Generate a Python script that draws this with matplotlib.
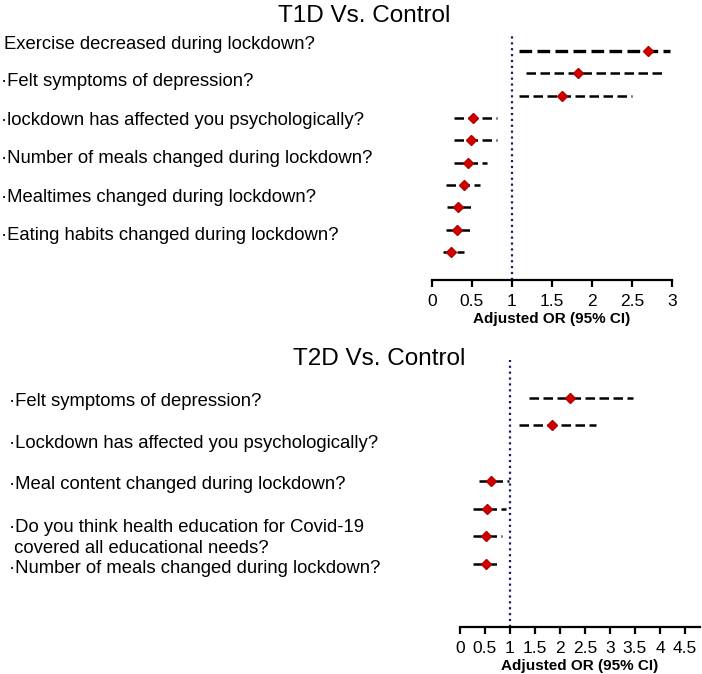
import matplotlib
matplotlib.use("Agg")
import matplotlib.pyplot as plt

plt.rcParams['font.family'] = ['Liberation Sans', 'DejaVu Sans']

# T1D vs control: adjusted OR with 95% CI (rows top to bottom)
t1d_or = [2.70, 1.83, 1.63, 0.51, 0.49, 0.45, 0.40, 0.32, 0.31, 0.24]
t1d_lo = [1.09, 1.18, 1.09, 0.28, 0.28, 0.28, 0.18, 0.19, 0.18, 0.14]
t1d_hi = [2.98, 2.91, 2.50, 0.81, 0.81, 0.69, 0.60, 0.50, 0.49, 0.40]
t1d_labels = [
    "Exercise decreased during lockdown?",
    "\u00b7Felt symptoms of depression?",
    "\u00b7lockdown has affected you psychologically?",
    "\u00b7Number of meals changed during lockdown?",
    "\u00b7Mealtimes changed during lockdown?",
    "\u00b7Eating habits changed during lockdown?",
]

# T2D vs control (row 2 is empty)
t2d_rows = [0, 1, 3, 4, 5, 6]
t2d_or = [2.20, 1.85, 0.62, 0.55, 0.52, 0.52]
t2d_lo = [1.39, 1.19, 0.38, 0.27, 0.27, 0.27]
t2d_hi = [3.47, 2.73, 0.99, 0.92, 0.85, 0.75]
t2d_labels = [
    "\u00b7Felt symptoms of depression?",
    "\u00b7Lockdown has affected you psychologically?",
    "\u00b7Meal content changed during lockdown?",
    "\u00b7Do you think health education for Covid-19",
    " covered all educational needs?",
    "\u00b7Number of meals changed during lockdown?",
]

W, H = 702, 674
fig = plt.figure(figsize=(W / 100, H / 100), dpi=100)


def px_axes(left, top, right, bottom):
    return fig.add_axes([left / W, 1 - bottom / H, (right - left) / W, (bottom - top) / H])


def forest(ax, rows, ors, los, his, xmax, ticks, first_thick=False):
    for i, (y, o, lo, hi) in enumerate(zip(rows, ors, los, his)):
        if i == 0 and first_thick:
            lw, dash = 2.4, (0, (3.8, 1.6))
        else:
            lw, dash = 1.8, (0, (3.8, 1.8))
        ax.plot([lo, hi], [y, y], color="black", lw=lw, linestyle=dash, zorder=2)
    ax.plot(ors, rows, linestyle="none", marker="D", markersize=5.6,
            markerfacecolor="#d40000", markeredgecolor="#b00000", zorder=3)
    ax.axvline(1, color="#1a1a6e", lw=1.6, linestyle=":", zorder=1)
    ax.set_xlim(0, xmax)
    ax.set_xticks(ticks)
    ax.set_xticklabels(["%g" % t for t in ticks], fontsize=12.5)
    ax.set_yticks([])
    for s in ["top", "right", "left"]:
        ax.spines[s].set_visible(False)
    ax.spines["bottom"].set_linewidth(1.6)
    ax.tick_params(axis="x", length=5, width=1.6, direction="out", pad=5)
    ax.set_xlabel("Adjusted OR (95% CI)", fontsize=11, fontweight="bold", labelpad=2)


ax1 = px_axes(432, 35, 672, 280)
forest(ax1, list(range(len(t1d_or))), t1d_or, t1d_lo, t1d_hi, 3.0,
       [0, 0.5, 1, 1.5, 2, 2.5, 3], first_thick=True)
ax1.set_ylim(10.25, -0.72)

ax2 = px_axes(459.7, 360, 700, 627)
forest(ax2, t2d_rows, t2d_or, t2d_lo, t2d_hi, 4.8,
       [0, 0.5, 1, 1.5, 2, 2.5, 3, 3.5, 4, 4.5])
ax2.set_ylim(8.27, -1.36)

# titles
fig.text(278 / W, 1 - 22 / H, "T1D Vs. Control", fontsize=17.5, ha="left", va="baseline")
fig.text(293 / W, 1 - 365 / H, "T2D Vs. Control", fontsize=17.5, ha="left", va="baseline")

# row labels
top_base = [49.3, 86, 125, 163.3, 201.7, 240]
top_x = [4, 1, 1, 1, 1, 1]
for lab, y, x in zip(t1d_labels, top_base, top_x):
    fig.text(x / W, 1 - y / H, lab, fontsize=13.3, ha="left", va="baseline")

bot_base = [406, 448.3, 489.3, 531.7, 552.7, 573.3]
for lab, y in zip(t2d_labels, bot_base):
    fig.text(9 / W, 1 - y / H, lab, fontsize=13.3, ha="left", va="baseline")

fig.savefig("out.png", dpi=100)
